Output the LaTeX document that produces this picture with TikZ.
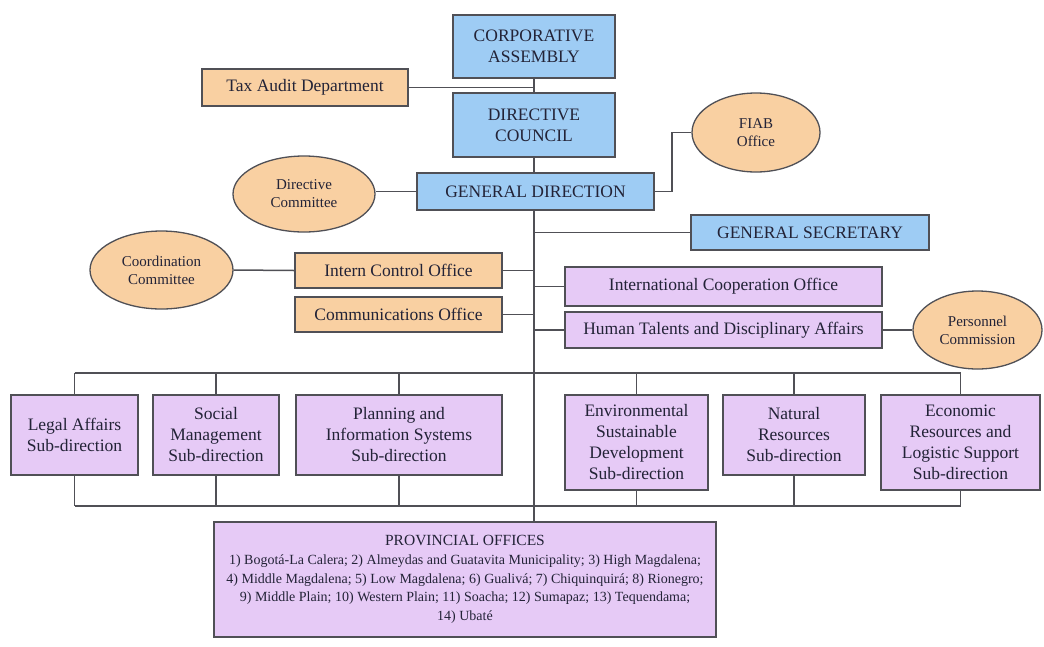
\documentclass[tikz,border=0pt]{standalone}
\usepackage{fontspec}
\setmainfont{Liberation Serif}
\usetikzlibrary{shapes.geometric}

\definecolor{boxblue}{RGB}{158,204,244}
\definecolor{boxpeach}{RGB}{249,208,162}
\definecolor{boxlilac}{RGB}{230,202,246}
\definecolor{edgegray}{RGB}{80,80,86}
\definecolor{inkgray}{RGB}{35,35,55}

\tikzset{
  unit/.style={draw=edgegray, line width=1.7pt, inner sep=0pt, align=center,
    text=inkgray, font=\fontsize{17.5}{21}\selectfont},
  bluebox/.style={unit, fill=boxblue, rectangle},
  peachbox/.style={unit, fill=boxpeach, rectangle},
  lilacbox/.style={unit, fill=boxlilac, rectangle},
  peachoval/.style={unit, fill=boxpeach, ellipse, line width=1.3pt,
    font=\fontsize{15}{18}\selectfont},
  link/.style={draw=edgegray, line width=1.5pt},
}

\begin{document}
\begin{tikzpicture}[x=1pt, y=-1pt]
\useasboundingbox[fill=white] (0,0) rectangle (1044,646);

% governing bodies
\node[bluebox, minimum width=162pt, minimum height=63pt] (ca) at (534,46.5) {CORPORATIVE\\ASSEMBLY};
\node[bluebox, minimum width=162pt, minimum height=64pt] (dc) at (534,125) {DIRECTIVE\\COUNCIL};
\node[peachbox, minimum width=206pt, minimum height=37pt] (tax) at (305,87.5) {Tax Audit Department};
\node[bluebox, minimum width=237pt, minimum height=37pt] (gd) at (535.5,191.5) {GENERAL DIRECTION};
\node[peachoval, minimum width=128pt, minimum height=79pt] (fiab) at (756,132.5) {FIAB\\Office};
\node[peachoval, minimum width=142pt, minimum height=76pt] (dcom) at (304,194) {Directive\\Committee};

% staff offices
\node[peachoval, minimum width=143pt, minimum height=78pt] (ccom) at (161.5,270) {Coordination\\Committee};
\node[peachbox, minimum width=207pt, minimum height=35pt] (ico) at (398.5,270.5) {Intern Control Office};
\node[peachbox, minimum width=207pt, minimum height=35pt] (com) at (398.5,314.5) {Communications Office};
\node[bluebox, minimum width=238pt, minimum height=35pt] (gs) at (810,232.5) {GENERAL SECRETARY};
\node[lilacbox, minimum width=317pt, minimum height=39pt] (ic) at (723.5,286.5) {International Cooperation Office};
\node[lilacbox, minimum width=317pt, minimum height=36pt] (ht) at (723.5,330) {Human Talents and Disciplinary Affairs};
\node[peachoval, minimum width=129pt, minimum height=78pt] (pc) at (977.5,330) {Personnel\\Commission};

% sub-directions
\node[lilacbox, minimum width=127pt, minimum height=80pt] (legal) at (74.5,435) {Legal Affairs\\Sub-direction};
\node[lilacbox, minimum width=126pt, minimum height=80pt] (social) at (216,435) {Social\\Management\\Sub-direction};
\node[lilacbox, minimum width=206pt, minimum height=80pt] (plan) at (399,435) {Planning and\\Information Systems\\Sub-direction};
\node[lilacbox, minimum width=143pt, minimum height=95pt] (env) at (636.5,442.5) {Environmental\\Sustainable\\Development\\Sub-direction};
\node[lilacbox, minimum width=142pt, minimum height=80pt] (nat) at (794,435) {Natural\\Resources\\Sub-direction};
\node[lilacbox, minimum width=159pt, minimum height=95pt] (eco) at (960.5,442.5) {Economic\\Resources and\\Logistic Support\\Sub-direction};

% provincial offices
\node[lilacbox, minimum width=502pt, minimum height=115pt,
  font=\fontsize{14}{18.7}\selectfont] (prov) at (465,579.5)
  {{\fontsize{15.5}{18.7}\selectfont PROVINCIAL OFFICES}\\
   1) Bogotá-La Calera; 2) Almeydas and Guatavita Municipality; 3) High Magdalena;\\
   4) Middle Magdalena; 5) Low Magdalena; 6) Gualivá; 7) Chiquinquirá; 8) Rionegro;\\
   9) Middle Plain; 10) Western Plain; 11) Soacha; 12) Sumapaz; 13) Tequendama;\\
   14) Ubaté};

% bus levels and the FIAB elbow
\coordinate (bt) at (0,373);
\coordinate (bb) at (0,506);
\coordinate (fj) at (672,0);

% main vertical spine
\draw[link] (ca.south) -- (dc.north);
\draw[link] (dc.south) -- (dc.south |- gd.north);
\draw[link] (ca.south |- gd.south) -- (ca.south |- prov.north);

% side connections
\draw[link] (tax.east) -- (tax.east -| ca.south);
\draw[link] (dcom.east |- gd.west) -- (gd.west);
\draw[link] (gd.east) -- (gd.east -| fj) |- (fiab.west);
\draw[link] (ccom.east) -- (ico.west);
\draw[link] (ico.east) -- (ico.east -| ca.south);
\draw[link] (com.east) -- (com.east -| ca.south);
\draw[link] (gs.west -| ca.south) -- (gs.west);
\draw[link] (ic.west -| ca.south) -- (ic.west);
\draw[link] (ht.west -| ca.south) -- (ht.west);
\draw[link] (ht.east) -- (pc.west);

% sub-direction buses
\draw[link] (legal.north |- bt) -- (eco.north |- bt);
\draw[link] (legal.south |- bb) -- (eco.south |- bb);
\foreach \b in {legal,social,plan,env,nat,eco}{
  \draw[link] (\b.north) -- (\b.north |- bt);
  \draw[link] (\b.south) -- (\b.south |- bb);
}
\end{tikzpicture}
\end{document}
